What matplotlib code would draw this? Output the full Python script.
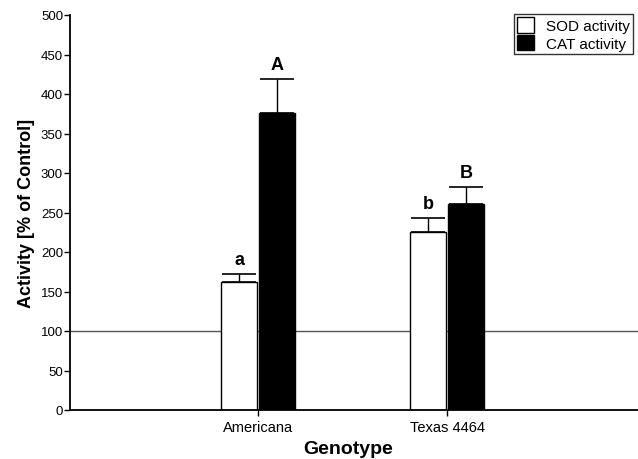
import matplotlib.pyplot as plt
import numpy as np
from matplotlib.patches import Patch

genotypes = ['Americana', 'Texas 4464']
sod_mean = [162, 225]
sod_err = [10, 18]
cat_mean = [376, 261]
cat_err = [43, 21]
sod_letters = ['a', 'b']
cat_letters = ['A', 'B']

plt.rcParams['font.family'] = ['Liberation Sans', 'DejaVu Sans']

fig = plt.figure(figsize=[6.38, 4.6], dpi=100)
ax = fig.add_axes([70/638, 1 - 411/460, 1 - 70/638, (411 - 16)/460])

x = np.arange(len(genotypes))
w = 0.19
ax.axhline(100, color='#555555', lw=1, zorder=1)
ax.bar(x - 0.1, sod_mean, w, color='white', edgecolor='black', lw=1, zorder=2,
       yerr=[[0, 0], sod_err], error_kw=dict(ecolor='black', elinewidth=1, capsize=12, capthick=1.2))
ax.bar(x + 0.1, cat_mean, w, color='black', edgecolor='black', lw=1, zorder=2,
       yerr=[[0, 0], cat_err], error_kw=dict(ecolor='black', elinewidth=1, capsize=12, capthick=1.2))

for i in range(len(genotypes)):
    ax.text(x[i] - 0.1, sod_mean[i] + sod_err[i] + 8, sod_letters[i], ha='center', va='bottom',
            fontsize=13, fontweight='bold')
    ax.text(x[i] + 0.1, cat_mean[i] + cat_err[i] + 8, cat_letters[i], ha='center', va='bottom',
            fontsize=13, fontweight='bold')

ax.set_xlim(-0.995, 2.01)
ax.set_ylim(0, 500)
ax.set_yticks(np.arange(0, 501, 50))
ax.set_xticks(x)
ax.set_xticklabels(genotypes, fontsize=10.5)
ax.tick_params(axis='y', labelsize=9.5, length=4, width=1, pad=1)
ax.tick_params(axis='x', length=4, width=1, pad=3)
for s in ['top', 'right']:
    ax.spines[s].set_visible(False)
ax.spines['left'].set_linewidth(1.3)
ax.spines['bottom'].set_linewidth(1.3)

ax.set_ylabel('Activity [% of Control]', fontsize=13, fontweight='bold', labelpad=4)
ax.set_xlabel('Genotype', fontsize=14, fontweight='bold', labelpad=1)
ax.xaxis.set_label_coords(0.49, -0.075)

handles = [Patch(facecolor='white', edgecolor='black', label='SOD activity'),
           Patch(facecolor='black', edgecolor='black', label='CAT activity')]
leg = ax.legend(handles=handles, loc='upper right', bbox_to_anchor=(0.997, 1.01), fontsize=11,
                frameon=True, fancybox=False, edgecolor='black', handlelength=1.1, handleheight=1.2,
                handletextpad=0.8, borderpad=0.2, labelspacing=0.1, borderaxespad=0.2)
leg.get_frame().set_linewidth(1)

fig.savefig('out.png', dpi=100)
